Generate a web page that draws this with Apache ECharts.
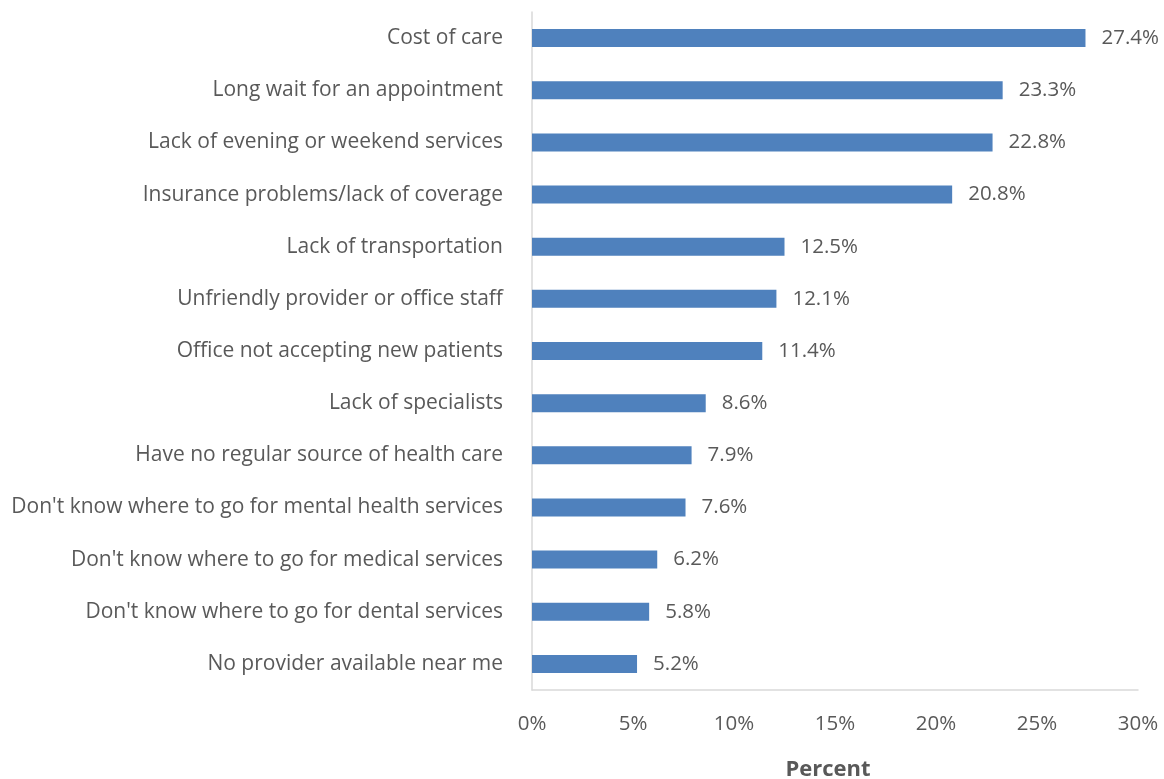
<!DOCTYPE html>
<html>
<head>
<meta charset="utf-8">
<script src="https://cdn.jsdelivr.net/npm/echarts@6/dist/echarts.min.js"></script>
<style>
  html, body { margin: 0; padding: 0; background: #fff; }
  #chart { width: 1164px; height: 779px; }
</style>
</head>
<body>
<div id="chart"></div>
<script>
// barriers to care, top to bottom as shown
var categories = [
    'Cost of care',
    'Long wait for an appointment',
    'Lack of evening or weekend services',
    'Insurance problems/lack of coverage',
    'Lack of transportation',
    'Unfriendly provider or office staff',
    'Office not accepting new patients',
    'Lack of specialists',
    'Have no regular source of health care',
    "Don't know where to go for mental health services",
    "Don't know where to go for medical services",
    "Don't know where to go for dental services",
    'No provider available near me'
];
var percents = [27.4, 23.3, 22.8, 20.8, 12.5, 12.1, 11.4, 8.6, 7.9, 7.6, 6.2, 5.8, 5.2];
var xTicks = [0, 5, 10, 15, 20, 25, 30];

var font = '"Open Sans", sans-serif';
var textColor = '#595959';

var myChart = echarts.init(document.getElementById('chart'));
myChart.setOption({
    animation: false,
    textStyle: { fontFamily: font },
    grid: { left: 532, right: 26, top: 12, bottom: 89, outerBoundsMode: 'none', containLabel: false },
    xAxis: {
        type: 'value',
        min: xTicks[0],
        max: xTicks[xTicks.length - 1],
        interval: 5,
        name: 'Percent',
        nameLocation: 'middle',
        nameGap: 69,
        nameTextStyle: {
            fontFamily: font, fontSize: 22, fontWeight: 'bold', color: textColor,
            padding: [0, 14, 0, 0]
        },
        axisLine: { show: true, lineStyle: { color: '#d9d9d9', width: 1.5 } },
        axisTick: { show: false },
        splitLine: { show: false },
        axisLabel: {
            fontFamily: font, fontSize: 20.5, color: textColor, margin: 24,
            formatter: function (v) { return v + '%'; }
        }
    },
    yAxis: {
        type: 'category',
        inverse: true,
        data: categories,
        axisLine: { show: true, lineStyle: { color: '#d9d9d9', width: 1.5 } },
        axisTick: { show: false },
        axisLabel: {
            fontFamily: font, fontSize: 21, color: textColor, margin: 29,
            padding: [4, 0, 0, 0]
        }
    },
    series: [{
        type: 'bar',
        data: percents,
        barWidth: 18,
        itemStyle: { color: '#4f81bd' },
        label: {
            show: true,
            position: 'right',
            distance: 16,
            padding: [4, 0, 0, 0],
            fontFamily: font,
            fontSize: 20.5,
            color: textColor,
            formatter: function (p) { return p.value.toFixed(1) + '%'; }
        }
    }]
});
</script>
</body>
</html>
